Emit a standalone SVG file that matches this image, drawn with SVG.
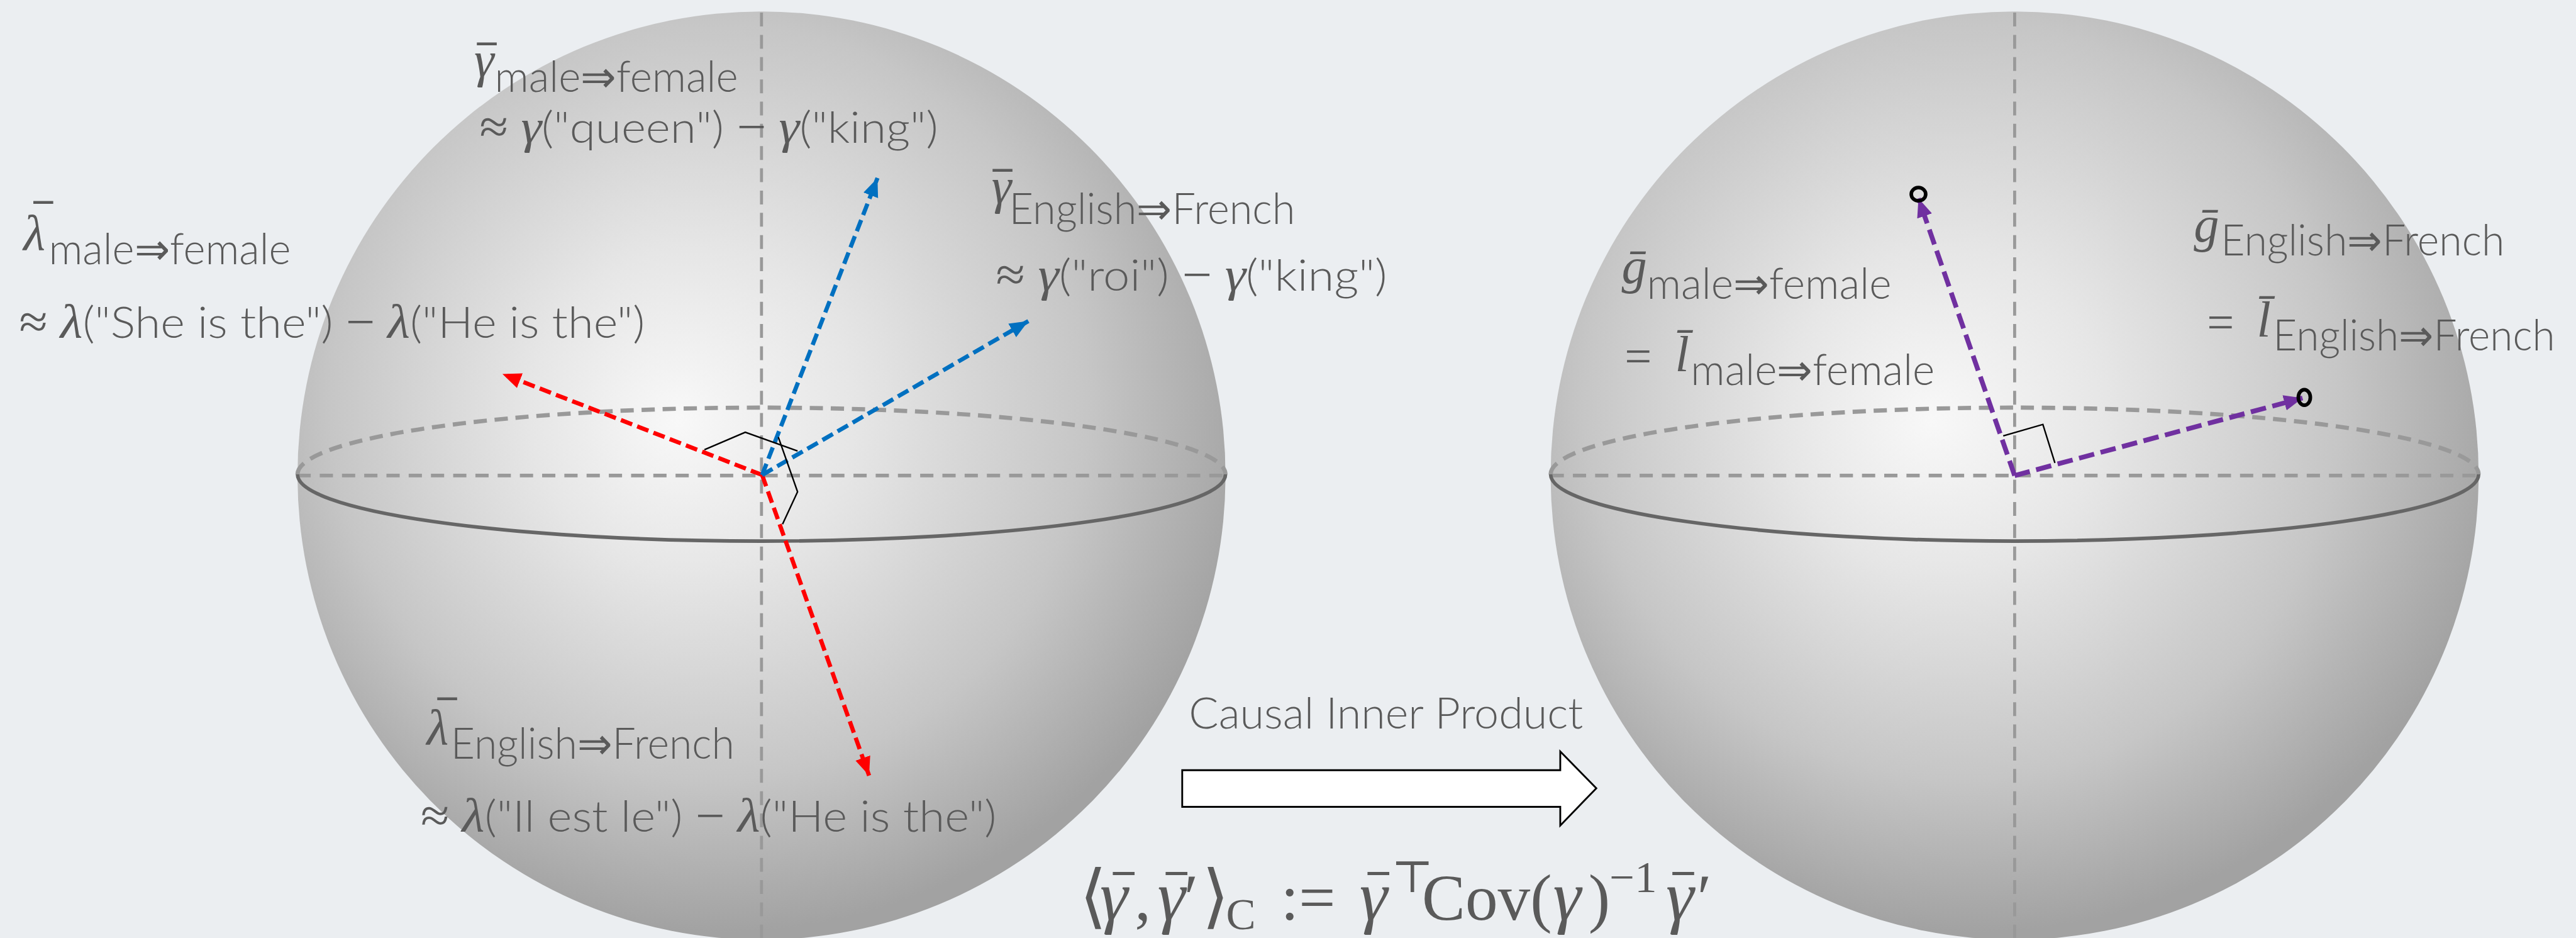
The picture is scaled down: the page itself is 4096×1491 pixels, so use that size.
<svg xmlns="http://www.w3.org/2000/svg" width="4096" height="1491" viewBox="0 0 4096 1491">
<defs>
<style>
.t{font-family:"Lato","Open Sans","Liberation Sans",sans-serif;font-weight:300;font-size:72px;fill:#5a5a5a}
.m{font-family:"Liberation Serif","DejaVu Serif",serif;font-style:italic;font-size:84px;fill:#5a5a5a}
.mi{font-family:"Liberation Serif","DejaVu Serif",serif;font-style:italic;font-size:80px}
.op{font-family:"Liberation Serif","DejaVu Serif",serif;font-style:normal;font-size:80px}
.bar{font-family:"Liberation Serif","DejaVu Serif",serif;font-style:normal;font-weight:bold;font-size:64px}
.fb{font-family:"Liberation Serif","DejaVu Serif",serif;font-style:normal;font-weight:bold;font-size:70px}
.fx{font-family:"Liberation Serif","DejaVu Serif",serif;font-size:108px;fill:#5a5a5a}
.fg{font-style:italic;font-size:118px}
.br{font-size:116px}
.sm{font-size:74px}
.gd{fill:none;stroke:#999;stroke-width:6;stroke-dasharray:22 15}
.gv{fill:none;stroke:#999;stroke-width:5;stroke-dasharray:23 14}
.ge{fill:none;stroke:#999;stroke-width:7;stroke-dasharray:22 13}
.gs{fill:none;stroke:#666;stroke-width:6}
.red{fill:none;stroke:#ff0000;stroke-width:7;stroke-dasharray:20 9;marker-end:url(#ah-red)}
.blue{fill:none;stroke:#0070c0;stroke-width:7;stroke-dasharray:20 9;marker-end:url(#ah-blue)}
.pur{fill:none;stroke:#7030a0;stroke-width:8;stroke-dasharray:26 11;marker-end:url(#ah-pur)}
.ra{fill:none;stroke:#000;stroke-width:2.5}
.dot{fill:none;stroke:#000;stroke-width:6}
</style>
<radialGradient id="sph" gradientUnits="objectBoundingBox" cx="0.457" cy="0.409" r="0.583" fx="0.411" fy="0.441">
<stop offset="0" stop-color="#f8f8f8"/>
<stop offset="0.3" stop-color="#e6e6e6"/>
<stop offset="0.7" stop-color="#c6c6c6"/>
<stop offset="1" stop-color="#a2a2a2"/>
</radialGradient>
<marker id="ah-red" markerUnits="userSpaceOnUse" markerWidth="34" markerHeight="28" refX="31" refY="13" orient="auto"><path d="M0,0 L31,13 L0,26 z" fill="#ff0000"/></marker>
<marker id="ah-blue" markerUnits="userSpaceOnUse" markerWidth="34" markerHeight="28" refX="31" refY="13" orient="auto"><path d="M0,0 L31,13 L0,26 z" fill="#0070c0"/></marker>
<marker id="ah-pur" markerUnits="userSpaceOnUse" markerWidth="34" markerHeight="28" refX="31" refY="13" orient="auto"><path d="M0,0 L31,13 L0,26 z" fill="#7030a0"/></marker>
</defs>
<rect width="4096" height="1491" fill="#ebeef1"/>
<g transform="scale(0.95567)">
<g id="sphere-left">
<circle cx="1267" cy="791" r="772" fill="url(#sph)"/>
<line class="gv" x1="1267" y1="21" x2="1267" y2="1560"/>
<line class="gd" x1="495" y1="791" x2="2039" y2="791"/>
<path class="ge" d="M495,789 A772,111 0 0,1 2039,789"/>
<path class="gs" d="M495,789 A772,111 0 0,0 2039,789"/>
</g>
<g id="sphere-right">
<circle cx="3352" cy="791" r="772" fill="url(#sph)"/>
<line class="gv" x1="3352" y1="21" x2="3352" y2="1560"/>
<line class="gd" x1="2580" y1="791" x2="4124" y2="791"/>
<path class="ge" d="M2580,789 A772,111 0 0,1 4124,789"/>
<path class="gs" d="M2580,789 A772,111 0 0,0 4124,789"/>
</g>
<g id="connectors">
<line class="red" x1="1268" y1="790" x2="836" y2="622"/>
<line class="red" x1="1268" y1="790" x2="1446" y2="1290"/>
<line class="blue" x1="1268" y1="790" x2="1460" y2="296"/>
<line class="blue" x1="1268" y1="790" x2="1711" y2="534"/>
<line class="pur" x1="3352" y1="791" x2="3192" y2="330"/>
<line class="pur" x1="3352" y1="791" x2="3831" y2="662"/>
</g>
<g id="right-angle-markers">
<polyline class="ra" points="1172,748 1240,719 1327,750"/>
<polyline class="ra" points="1295,727 1327,818 1302,872"/>
<polyline class="ra" points="3333,725 3399,706 3419,770"/>
</g>
<g id="endpoints">
<ellipse class="dot" cx="3192" cy="323" rx="12" ry="11"/>
<ellipse class="dot" cx="3834" cy="661" rx="10" ry="13"/>
</g>
<g id="label-gamma-male-female">
<text class="m" x="789" y="128">γ<tspan class="bar" x="794" y="119">¯</tspan></text>
<text class="t" x="823" y="153" textLength="405" lengthAdjust="spacingAndGlyphs">male⇒female</text>
<text class="t" x="798" y="238" textLength="763" lengthAdjust="spacingAndGlyphs"><tspan class="op">≈</tspan> <tspan class="mi">γ</tspan>("queen") <tspan class="op">−</tspan> <tspan class="mi">γ</tspan>("king")</text>
</g>
<g id="label-lambda-male-female">
<text class="m" x="39" y="415">λ<tspan class="bar" x="56" y="383">¯</tspan></text>
<text class="t" x="81" y="440" textLength="403" lengthAdjust="spacingAndGlyphs">male⇒female</text>
<text class="t" x="32" y="562" textLength="1041" lengthAdjust="spacingAndGlyphs"><tspan class="op">≈</tspan> <tspan class="mi">λ</tspan>("She is the") <tspan class="op">−</tspan> <tspan class="mi">λ</tspan>("He is the")</text>
</g>
<g id="label-gamma-english-french">
<text class="m" x="1650" y="338">γ<tspan class="bar" x="1652" y="330">¯</tspan></text>
<text class="t" x="1679" y="372" textLength="476" lengthAdjust="spacingAndGlyphs">English⇒French</text>
<text class="t" x="1657" y="483" textLength="651" lengthAdjust="spacingAndGlyphs"><tspan class="op">≈</tspan> <tspan class="mi">γ</tspan>("roi") <tspan class="op">−</tspan> <tspan class="mi">γ</tspan>("king")</text>
</g>
<g id="label-lambda-english-french">
<text class="m" x="710" y="1238">λ<tspan class="bar" x="728" y="1209">¯</tspan></text>
<text class="t" x="750" y="1262" textLength="472" lengthAdjust="spacingAndGlyphs">English⇒French</text>
<text class="t" x="700" y="1383" textLength="958" lengthAdjust="spacingAndGlyphs"><tspan class="op">≈</tspan> <tspan class="mi">λ</tspan>("Il est le") <tspan class="op">−</tspan> <tspan class="mi">λ</tspan>("He is the")</text>
</g>
<g id="label-g-male-female">
<text class="m" x="2698" y="471">ḡ</text>
<text class="t" x="2740" y="497" textLength="407" lengthAdjust="spacingAndGlyphs">male⇒female</text>
<text class="t" x="2703" y="619"><tspan class="op">=</tspan></text>
<text class="m" x="2787" y="617">l̄</text>
<text class="t" x="2813" y="640" textLength="406" lengthAdjust="spacingAndGlyphs">male⇒female</text>
</g>
<g id="label-g-english-french">
<text class="m" x="3650" y="402">ḡ</text>
<text class="t" x="3695" y="425" textLength="472" lengthAdjust="spacingAndGlyphs">English⇒French</text>
<text class="t" x="3672" y="563"><tspan class="op">=</tspan></text>
<text class="m" x="3755" y="560">l̄</text>
<text class="t" x="3782" y="583" textLength="469" lengthAdjust="spacingAndGlyphs">English⇒French</text>
</g>
<g id="causal-arrow">
<text class="t" x="1978" y="1212" font-size="76" textLength="656" lengthAdjust="spacingAndGlyphs">Causal Inner Product</text>
<polygon points="1967,1281 2596,1281 2596,1250 2656,1311 2596,1373 2596,1342 1967,1342" fill="#fff" stroke="#000" stroke-width="3"/>
</g>
<g id="formula">
<text class="fx" y="1530"><tspan class="br" x="1796">⟨</tspan><tspan class="fg" x="1830">γ</tspan><tspan class="fb" x="1852" y="1504">¯</tspan><tspan x="1888" y="1530">,</tspan><tspan class="fg" x="1926">γ</tspan><tspan class="fb" x="1940" y="1504">¯</tspan><tspan x="1970" y="1530">′</tspan><tspan class="br" x="2000">⟩</tspan><tspan class="sm" x="2040" y="1546">C</tspan><tspan x="2131" y="1530">:=</tspan><tspan class="fg" x="2262">γ</tspan><tspan class="fb" x="2276" y="1504">¯</tspan><tspan class="sm" x="2315" y="1484">⊤</tspan><tspan x="2366" y="1530">Cov(</tspan><tspan class="fg" x="2584">γ</tspan><tspan x="2643">)</tspan><tspan class="sm" x="2678" y="1484">−1</tspan><tspan class="fg" x="2772" y="1530">γ</tspan><tspan class="fb" x="2783" y="1504">¯</tspan><tspan x="2824" y="1530">′</tspan></text>
</g>
</g>
</svg>
